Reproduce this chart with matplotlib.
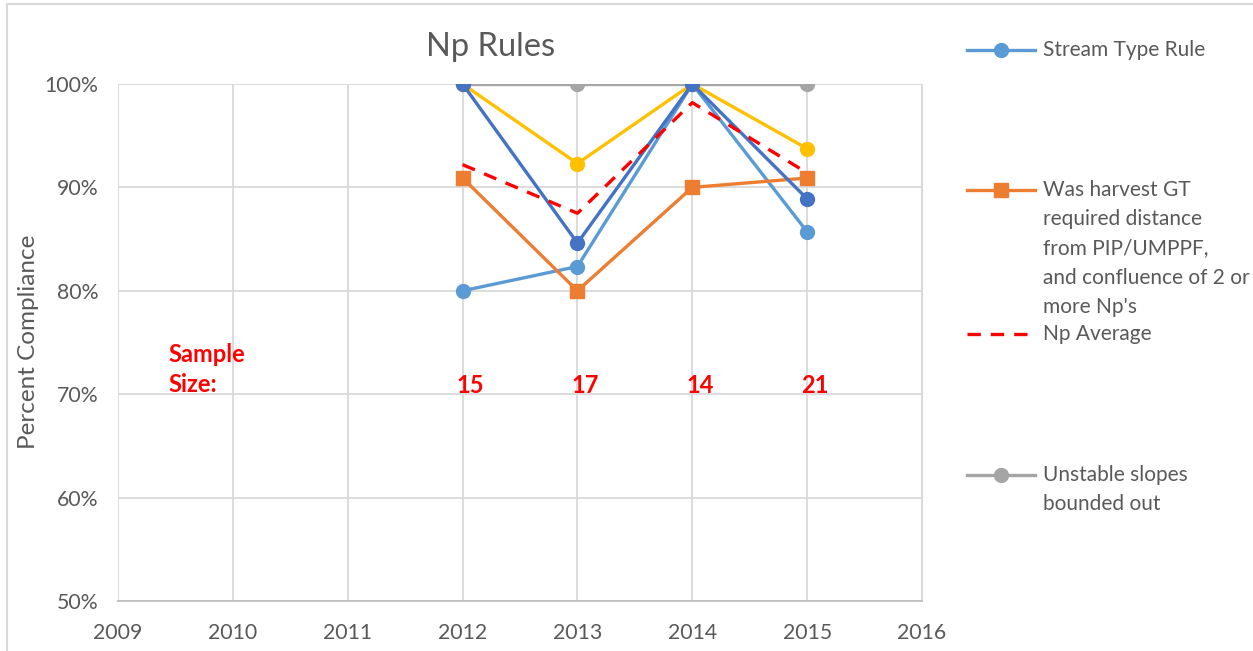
import matplotlib
matplotlib.use("Agg")
import matplotlib.pyplot as plt
from matplotlib.lines import Line2D

plt.rcParams['font.family'] = ['Lato', 'DejaVu Sans']

# data
years = [2012, 2013, 2014, 2015]
stream_type = [80.0, 82.35, 100.0, 85.71]
harvest_gt = [90.91, 80.0, 90.0, 90.91]
unstable = [100.0, 100.0, 100.0, 100.0]
yellow_series = [100.0, 92.31, 100.0, 93.75]
darkblue_series = [100.0, 84.62, 100.0, 88.89]
np_average = [92.2, 87.5, 98.2, 91.4]
sample_sizes = [15, 17, 14, 21]
year_ticks = list(range(2009, 2017))
pct_ticks = [50, 60, 70, 80, 90, 100]

W, H = 1253, 651
fig = plt.figure(figsize=(W / 100, H / 100), dpi=100)
ax = fig.add_axes([118 / W, 1 - 601 / H, (922 - 118) / W, (601 - 84) / H])

grid_c = "#D9D9D9"
text_c = "#595959"

ax.plot(years, unstable, color="#A5A5A5", lw=2.4, marker="o", ms=10, zorder=3)
ax.plot(years, stream_type, color="#5B9BD5", lw=2.4, marker="o", ms=10, zorder=4)
ax.plot(years, harvest_gt, color="#ED7D31", lw=2.4, marker="s", ms=10, zorder=4)
ax.plot(years, yellow_series, color="#FFC000", lw=2.4, marker="o", ms=10, zorder=5)
ax.plot(years, darkblue_series, color="#4472C4", lw=2.4, marker="o", ms=10, zorder=6)
ax.plot(years, np_average, color="#FF0000", lw=2.4, ls=(0, (4, 3)), zorder=7)

ax.set_xlim(2009, 2016)
ax.set_ylim(50, 100)
ax.set_xticks(year_ticks)
ax.set_yticks(pct_ticks)
ax.set_yticklabels([f"{v}%" for v in pct_ticks])
ax.grid(True, color=grid_c, lw=1.3, zorder=0)
ax.tick_params(length=0, labelsize=15.3, colors=text_c)
ax.tick_params(axis="x", pad=16)
ax.tick_params(axis="y", pad=14)
for s in ["top", "left"]:
    ax.spines[s].set_visible(False)
ax.spines["right"].set_color(grid_c)
ax.spines["bottom"].set_color("#BFBFBF")
ax.spines["bottom"].set_linewidth(1.3)

fig.text(29 / W, 1 - 342 / H, "Percent Compliance", fontsize=17.5, color=text_c,
         rotation=90, ha="center", va="center")
fig.text(491 / W, 1 - 47 / H, "Np Rules", fontsize=23.5, color=text_c,
         ha="center", va="center")

# sample size annotations
fig.text(168 / W, 1 - 354 / H, "Sample", fontsize=17, color="red",
         fontweight="bold", va="center")
fig.text(168 / W, 1 - 385 / H, "Size:", fontsize=17, color="red",
         fontweight="bold", va="center")
for yr, n in zip(years, sample_sizes):
    ax.text(yr + 0.07, 70.8, str(n), fontsize=17, color="red",
            fontweight="bold", ha="center", va="center")

# legend drawn by hand (Excel spreads the entries out)
def legend_entry(y, color, marker, ls, lines):
    yy = 1 - y / H
    fig.add_artist(Line2D([967 / W, 1035 / W], [yy, yy], color=color, lw=2.4,
                          ls=ls, transform=fig.transFigure))
    if marker:
        fig.add_artist(Line2D([1001 / W], [yy], color=color, marker=marker,
                              ms=10, transform=fig.transFigure))
    for i, t in enumerate(lines):
        fig.text(1043 / W, 1 - (y + i * 29.2) / H, t, fontsize=15,
                 color=text_c, va="center")

legend_entry(50, "#5B9BD5", "o", "-", ["Stream Type Rule"])
legend_entry(190, "#ED7D31", "s", "-",
             ["Was harvest GT", "required distance", "from PIP/UMPPF,",
              "and confluence of 2 or", "more Np's"])
legend_entry(334, "#FF0000", None, (0, (4, 3)), ["Np Average"])
legend_entry(475, "#A5A5A5", "o", "-", ["Unstable slopes", "bounded out"])

# outer chart frame (left and top edges visible)
fig.add_artist(Line2D([7 / W, 7 / W], [0, 1 - 4 / H], color=grid_c, lw=1.5,
                      transform=fig.transFigure))
fig.add_artist(Line2D([7 / W, 1], [1 - 4 / H, 1 - 4 / H], color=grid_c, lw=1.5,
                      transform=fig.transFigure))

fig.savefig("out.png", dpi=100)
